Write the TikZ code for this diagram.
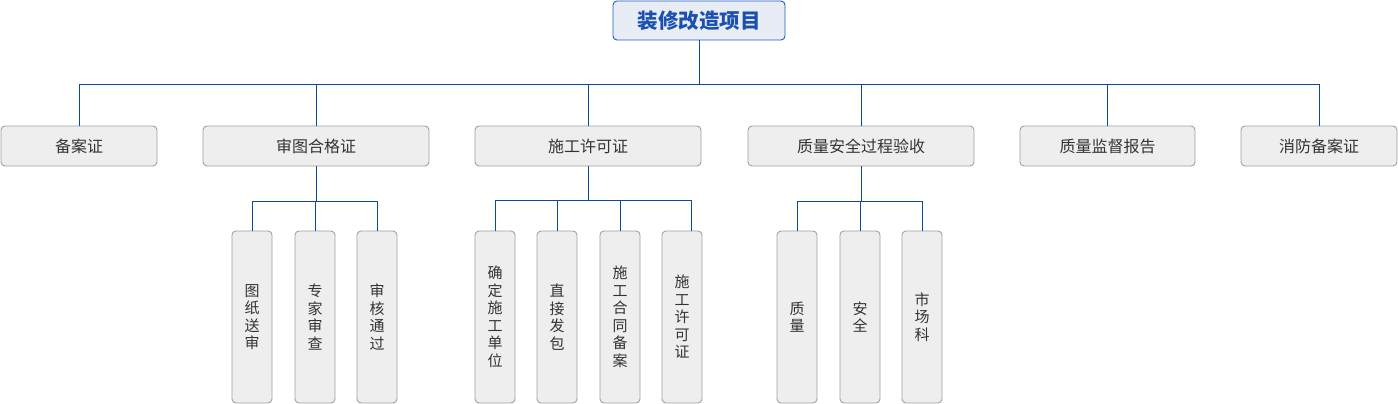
\documentclass[tikz,border=0pt]{standalone}
\usepackage{fontspec}
\setmainfont{Noto Sans CJK SC}
\usetikzlibrary{positioning}
\definecolor{lineblue}{HTML}{0B4A9A}
\definecolor{rootfill}{HTML}{E8ECF5}
\definecolor{rootdraw}{HTML}{1E5BC0}
\definecolor{roottext}{HTML}{1A50B0}
\definecolor{boxfill}{HTML}{EEEEEE}
\definecolor{boxdraw}{HTML}{A0A0A0}
\definecolor{txt}{HTML}{333333}
\begin{document}
\begin{tikzpicture}[x=1pt,y=-1pt,
  rootbox/.style={draw=rootdraw,fill=rootfill,rounded corners=4pt,line width=0.9pt,
    minimum width=172pt,minimum height=39pt,inner sep=0pt,text=roottext,
    font=\fontsize{20.5}{24}\selectfont\bfseries},
  lvone/.style={draw=boxdraw,fill=boxfill,rounded corners=4pt,line width=0.9pt,
    minimum height=40pt,inner sep=0pt,text=txt,font=\fontsize{16}{19}\selectfont},
  lvtwo/.style={draw=boxdraw,fill=boxfill,rounded corners=4pt,line width=0.9pt,
    minimum width=40pt,minimum height=172pt,inner sep=0pt,text=txt,align=center,
    font=\fontsize{15}{17.5}\selectfont},
  conn/.style={draw=lineblue,line width=0.9pt}]
\useasboundingbox (0,0) rectangle (1398,404);
% root
\node[rootbox] (root) at (699,20.5) {装修改造项目};
% level 1
\node[lvone,minimum width=156pt] (a1) at (79,146) {备案证};
\node[lvone,minimum width=226pt] (a2) at (316,146) {审图合格证};
\node[lvone,minimum width=226pt] (a3) at (588,146) {施工许可证};
\node[lvone,minimum width=226pt] (a4) at (861,146) {质量安全过程验收};
\node[lvone,minimum width=175pt] (a5) at (1107.5,146) {质量监督报告};
\node[lvone,minimum width=156pt] (a6) at (1319,146) {消防备案证};
% level 2
\node[lvtwo] (b1) at (252,317) {图\\纸\\送\\审};
\node[lvtwo] (b2) at (315,317) {专\\家\\审\\查};
\node[lvtwo] (b3) at (377,317) {审\\核\\通\\过};
\node[lvtwo] (c1) at (495,317) {确\\定\\施\\工\\单\\位};
\node[lvtwo] (c2) at (557,317) {直\\接\\发\\包};
\node[lvtwo] (c3) at (620,317) {施\\工\\合\\同\\备\\案};
\node[lvtwo] (c4) at (682,317) {施\\工\\许\\可\\证};
\node[lvtwo] (d1) at (797,317) {质\\量};
\node[lvtwo] (d2) at (860,317) {安\\全};
\node[lvtwo] (d3) at (922,317) {市\\场\\科};
% connectors level 0 -> 1
\foreach \n in {a1,a2,a3,a4,a5,a6}
  \draw[conn] (root.south) -- ++(0,44.5) -| (\n.north);
% level 1 -> 2
\foreach \n in {b1,b2,b3}
  \draw[conn] (a2.south) -- ++(0,35) -| (\n.north);
\foreach \n in {c1,c2,c3}
  \draw[conn] (a3.south) -- ++(0,33.5) -| (\n.north);
\draw[conn] (a3.south) -- ++(0,33.5) -| ([xshift=-11pt]c4.north east);
\foreach \n in {d1,d2,d3}
  \draw[conn] (a4.south) -- ++(0,35) -| (\n.north);
\end{tikzpicture}
\end{document}
